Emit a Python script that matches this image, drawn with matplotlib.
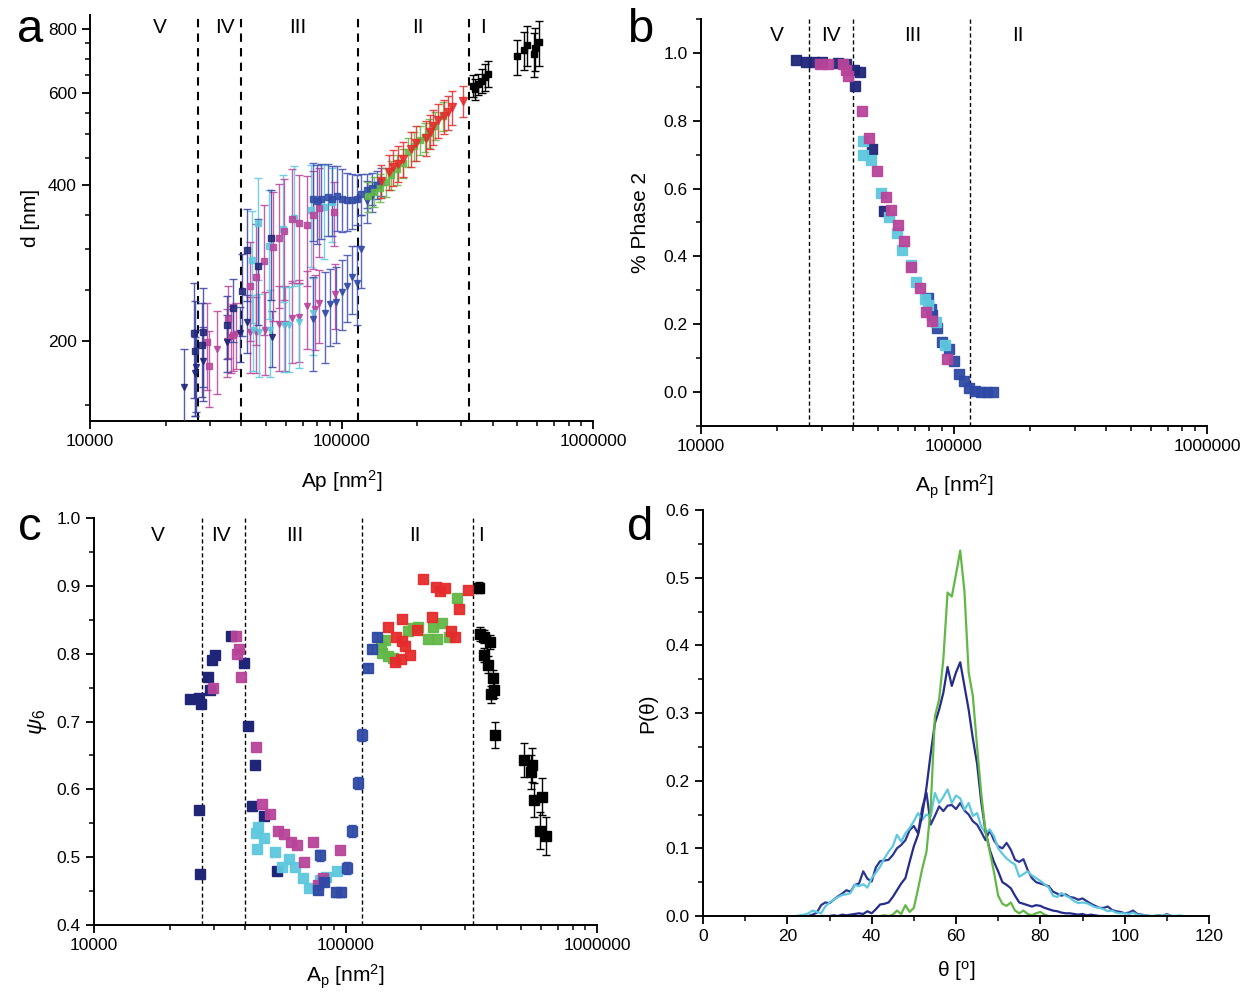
import numpy as np
import matplotlib
matplotlib.use("Agg")
import matplotlib.pyplot as plt
from matplotlib.ticker import FixedLocator, MultipleLocator, NullFormatter, LogLocator, FuncFormatter

plt.rcParams['font.family'] = ['Liberation Sans', 'DejaVu Sans']
plt.rcParams['mathtext.fontset'] = 'custom'
plt.rcParams['mathtext.rm'] = 'Liberation Sans'
plt.rcParams['mathtext.it'] = 'Liberation Sans:italic'

NAVY = '#1f2678'
BLUE = '#2f4aa5'
CYAN = '#5ec8de'
MAGENTA = '#b8449a'
RED = '#e52b2b'
GREEN = '#62b846'

# regime boundaries (nm^2)
bounds = [26800, 40000, 116000, 322000]

# ---------------- panel a : d vs Ap ----------------
a_navy_sq_x = [25800, 26100, 28200, 28000, 35000, 37100, 40200, 42000, 46500, 52400]
a_navy_sq_y = [207, 191, 208, 196, 214, 231, 249, 299, 279, 315]
a_navy_sq_e = [52, 48, 45, 40, 30, 32, 45, 60, 65, 75]

a_navy_tri_x = [23600, 26100, 26500, 28200, 35000, 39500, 42000, 52800]
a_navy_tri_y = [163, 173, 178, 183, 199, 207, 217, 203]
a_navy_tri_e = [30, 30, 32, 30, 25, 25, 28, 25]

a_mag_sq_x = [29300, 29700, 35500, 37000, 43300, 45900, 49200, 53600, 56200, 59200,
              63400, 67700, 72600, 77300, 81400, 93300]
a_mag_sq_y = [199, 179, 220, 205, 255, 266, 285, 303, 316, 325, 344, 338, 335, 350, 360, 355]
a_mag_sq_e = [38, 30, 35, 30, 55, 70, 80, 85, 85, 85, 85, 80, 80, 75, 70, 50]

a_cyan_sq_x = [43900, 46700, 51500, 58800, 65000, 75600, 85000, 91400]
a_cyan_sq_y = [286, 337, 305, 328, 345, 357, 362, 370]
a_cyan_sq_e = [70, 75, 85, 90, 90, 80, 75, 60]

a_mag_tri_x = [31900, 35200, 36500, 38000, 43300, 45900, 49500, 56200, 59800, 63400,
               67700, 72600, 78200, 81400, 94000]
a_mag_tri_y = [193, 200, 203, 206, 208, 208, 210, 215, 215, 221, 222, 233, 230, 236, 246]
a_mag_tri_e = [35, 30, 30, 30, 35, 35, 38, 40, 40, 40, 40, 40, 38, 38, 35]

a_cyan_tri_x = [44500, 47000, 52000, 59000, 62000, 68000, 77000]
a_cyan_tri_y = [210, 208, 210, 214, 214, 217, 226]
a_cyan_tri_e = [35, 38, 40, 40, 40, 40, 38]

a_blue_sq_x = [77000, 80000, 83000, 88000, 92000, 96000, 100000, 105000, 110000, 115000,
               120000, 126000, 132000, 138000, 143000]
a_blue_sq_y = [376, 372, 376, 378, 376, 380, 376, 374, 374, 376, 384, 390, 394, 400, 405]
a_blue_sq_e = [65, 65, 62, 60, 58, 55, 52, 48, 45, 42, 35, 30, 28, 25, 25]

a_blue_tri_x = [77300, 86000, 90000, 95000, 100000, 105000, 110000, 115000, 120000, 126000, 132000]
a_blue_tri_y = [220, 226, 235, 238, 248, 255, 265, 259, 301, 372, 380]
a_blue_tri_e = [45, 45, 40, 40, 38, 38, 40, 45, 48, 35, 25]

a_green_sq_x = [128000, 135000, 142000, 150000, 158000, 166000, 175000, 184000, 195000,
                205000, 214000, 222000, 235000, 254000]
a_green_sq_y = [380, 388, 395, 405, 418, 428, 440, 462, 475, 488, 495, 503, 520, 543]
a_green_sq_e = [25, 25, 25, 26, 27, 28, 28, 30, 30, 31, 32, 32, 33, 35]

a_red_tri_x = [144000, 154000, 160000, 168000, 176000, 189000, 198000, 216000, 225000,
               232000, 242000, 255000, 266000, 276000, 303000]
a_red_tri_y = [407, 423, 432, 439, 449, 469, 481, 492, 506, 518, 532, 542, 552, 564, 581]
a_red_tri_e = [30, 33, 35, 35, 35, 36, 37, 38, 38, 40, 40, 40, 42, 42, 40]

a_black_sq_x = [334000, 338000, 350000, 361000, 371000, 383000, 498000, 533000, 547000,
                581000, 590000, 610000]
a_black_sq_y = [621, 611, 625, 635, 645, 654, 707, 727, 744, 716, 733, 753]
a_black_sq_e = [30, 28, 30, 35, 38, 38, 55, 60, 65, 70, 70, 75]

# ---------------- panel b : % phase 2 ----------------
b_navy_x = [23800, 26100, 28000, 30200, 34800, 37400, 40300, 42500, 40700, 47400, 52800]
b_navy_y = [0.978, 0.973, 0.973, 0.973, 0.970, 0.967, 0.949, 0.944, 0.903, 0.716, 0.533]
b_blue_x = [78700, 81000, 81500, 86000, 89900, 95200, 100200, 105000, 110000, 115000,
            121000, 128000, 135000, 143000]
b_blue_y = [0.277, 0.246, 0.226, 0.189, 0.149, 0.126, 0.091, 0.054, 0.032, 0.012,
            0.002, 0.0, 0.0, 0.0]
b_mag_x = [29600, 31800, 36500, 37400, 38100, 43300, 46200, 49700, 53800, 56400, 60000,
           63300, 67600, 73200, 77200, 81500, 94200]
b_mag_y = [0.966, 0.966, 0.967, 0.949, 0.931, 0.828, 0.750, 0.651, 0.575, 0.538, 0.494,
           0.444, 0.369, 0.308, 0.236, 0.209, 0.098]
b_cyan_x = [43700, 43700, 47000, 51500, 55200, 59300, 62100, 67600, 70500, 76700, 78700,
            84600, 91900]
b_cyan_y = [0.740, 0.698, 0.685, 0.587, 0.516, 0.470, 0.420, 0.374, 0.324, 0.273, 0.256,
            0.206, 0.138]

# ---------------- panel c : psi6 ----------------
c_navy_x = [24000, 26100, 26700, 26100, 26300, 28400, 28800, 29500, 30200, 34900, 39500,
            41000, 43600, 42600, 47400, 53300]
c_navy_y = [0.733, 0.734, 0.726, 0.570, 0.475, 0.766, 0.746, 0.791, 0.798, 0.826, 0.786,
            0.693, 0.636, 0.576, 0.561, 0.480]
c_blue_x = [77500, 79400, 82000, 91800, 96100, 101000, 106000, 112000, 116000, 123000,
            127000, 134000]
c_blue_y = [0.452, 0.503, 0.464, 0.448, 0.448, 0.484, 0.539, 0.609, 0.680, 0.779, 0.807, 0.825]
c_blue_e = [0.006, 0.008, 0.006, 0.007, 0.007, 0.009, 0.009, 0.009, 0.009, 0.006, 0.006, 0.006]
c_mag_x = [29800, 36600, 37100, 37600, 38300, 44000, 46500, 50100, 54000, 57000, 60600,
           64100, 68200, 74100, 81200, 77500, 95500]
c_mag_y = [0.749, 0.826, 0.800, 0.807, 0.766, 0.662, 0.579, 0.563, 0.539, 0.534, 0.522,
           0.518, 0.493, 0.522, 0.469, 0.459, 0.511]
c_cyan_x = [44700, 44000, 44400, 47400, 52400, 55700, 59700, 62900, 67900, 71800, 79400,
            83700, 92700]
c_cyan_y = [0.545, 0.535, 0.512, 0.528, 0.508, 0.485, 0.497, 0.486, 0.469, 0.454, 0.466,
            0.471, 0.479]
c_green_x = [139000, 143000, 139500, 148000, 155000, 177000, 186000, 195000, 212000, 223000,
             232000, 243000, 258000, 278000]
c_green_y = [0.811, 0.820, 0.801, 0.796, 0.793, 0.833, 0.838, 0.839, 0.821, 0.840, 0.821,
             0.845, 0.824, 0.882]
c_red_x = [148000, 157000, 159000, 166000, 168000, 167000, 172000, 180000, 193000, 204000,
           220000, 230000, 238000, 249000, 262000, 273000, 283000, 308000]
c_red_y = [0.840, 0.788, 0.825, 0.792, 0.851, 0.818, 0.812, 0.798, 0.835, 0.910, 0.854,
           0.898, 0.893, 0.897, 0.834, 0.824, 0.866, 0.894]
c_black_x = [341000, 343000, 354000, 376000, 354500, 368000, 385000, 388000, 380000, 394000,
             511000, 552000, 547000, 564000, 605000, 596000, 628000]
c_black_y = [0.897, 0.829, 0.825, 0.817, 0.798, 0.784, 0.764, 0.747, 0.740, 0.680, 0.643,
             0.636, 0.626, 0.584, 0.589, 0.539, 0.531]
c_black_e = [0.008, 0.010, 0.010, 0.010, 0.010, 0.012, 0.012, 0.013, 0.013, 0.019, 0.025,
             0.025, 0.025, 0.025, 0.027, 0.027, 0.028]

# ---------------- panel d : P(theta) ----------------
d_green_t = list(range(42, 83))
d_green_p = [0.000, 0.001, 0.000, 0.002, 0.008, 0.003, 0.016, 0.006, 0.012, 0.040, 0.070,
             0.095, 0.160, 0.295, 0.320, 0.380, 0.478, 0.472, 0.505, 0.540, 0.480, 0.360,
             0.325, 0.250, 0.180, 0.125, 0.095, 0.065, 0.030, 0.018, 0.015, 0.020, 0.008,
             0.004, 0.008, 0.003, 0.001, 0.004, 0.006, 0.002, 0.000]
d_navy_t = list(range(28, 96))
d_navy_p = [0.000, 0.000, 0.000, 0.001, 0.000, 0.002, 0.001, 0.002, 0.003, 0.004, 0.003,
            0.007, 0.004, 0.010, 0.017, 0.018, 0.020, 0.028, 0.038, 0.048, 0.056, 0.080,
            0.103, 0.120, 0.150, 0.190, 0.240, 0.285, 0.305, 0.330, 0.368, 0.340, 0.360,
            0.375, 0.340, 0.305, 0.262, 0.225, 0.168, 0.125, 0.098, 0.080, 0.066, 0.050,
            0.046, 0.041, 0.030, 0.020, 0.018, 0.016, 0.014, 0.016, 0.015, 0.012, 0.010,
            0.008, 0.007, 0.005, 0.004, 0.004, 0.003, 0.002, 0.003, 0.001, 0.002, 0.001,
            0.000, 0.000]
d_broad_t = list(range(24, 113))
d_broad_p = [0.000, 0.000, 0.002, 0.005, 0.016, 0.020, 0.019, 0.024, 0.029, 0.033, 0.038,
             0.036, 0.046, 0.048, 0.066, 0.055, 0.051, 0.072, 0.081, 0.082, 0.083, 0.090,
             0.100, 0.105, 0.112, 0.127, 0.133, 0.122, 0.160, 0.182, 0.135, 0.148, 0.162,
             0.155, 0.163, 0.164, 0.158, 0.167, 0.156, 0.150, 0.140, 0.135, 0.124, 0.112,
             0.127, 0.112, 0.103, 0.100, 0.108, 0.098, 0.083, 0.080, 0.084, 0.068, 0.056,
             0.050, 0.048, 0.046, 0.044, 0.036, 0.033, 0.030, 0.032, 0.028, 0.027, 0.024,
             0.026, 0.022, 0.018, 0.015, 0.012, 0.012, 0.014, 0.009, 0.007, 0.006, 0.004,
             0.005, 0.008, 0.003, 0.002, 0.001, 0.000, 0.000, 0.001, 0.000, 0.003, 0.000,
             0.000]
d_cyan_t = list(range(22, 115))
d_cyan_p = [0.000, 0.001, 0.002, 0.004, 0.008, 0.006, 0.004, 0.014, 0.020, 0.024, 0.028,
            0.031, 0.032, 0.034, 0.046, 0.044, 0.047, 0.042, 0.056, 0.064, 0.073, 0.085,
            0.095, 0.103, 0.120, 0.110, 0.122, 0.130, 0.140, 0.152, 0.142, 0.150, 0.147,
            0.182, 0.167, 0.176, 0.187, 0.167, 0.178, 0.174, 0.157, 0.167, 0.148, 0.152,
            0.132, 0.123, 0.128, 0.118, 0.100, 0.092, 0.085, 0.080, 0.076, 0.058, 0.062,
            0.066, 0.060, 0.056, 0.052, 0.047, 0.042, 0.030, 0.028, 0.034, 0.030, 0.027,
            0.022, 0.019, 0.020, 0.019, 0.016, 0.013, 0.012, 0.010, 0.007, 0.008, 0.005,
            0.004, 0.004, 0.003, 0.005, 0.002, 0.001, 0.001, 0.000, 0.000, 0.001, 0.000,
            0.002, 0.000, 0.000, 0.001, 0.000]


def style_axes(ax):
    for s in ['top', 'right']:
        ax.spines[s].set_visible(False)
    for s in ['left', 'bottom']:
        ax.spines[s].set_linewidth(1.4)
    ax.tick_params(which='major', direction='out', length=6, width=1.3, labelsize=12.5)
    ax.tick_params(which='minor', direction='out', length=3.5, width=1.1)


def log_xaxis(ax):
    ax.set_xscale('log')
    ax.set_xlim(1e4, 1e6)
    ax.xaxis.set_major_locator(FixedLocator([1e4, 1e5, 1e6]))
    ax.xaxis.set_major_formatter(FuncFormatter(lambda v, p: '%d' % round(v)))
    ax.xaxis.set_minor_locator(LogLocator(base=10, subs=range(2, 10)))
    ax.xaxis.set_minor_formatter(NullFormatter())


def regimes(ax, labels, xs, yfrac, lw, dash):
    # panel b shows only the first three boundaries
    for b in bounds[:len(labels) - 1] if len(labels) < 5 else bounds:
        ax.axvline(b, color='k', lw=lw, dashes=dash, zorder=1)
    for lab, x in zip(labels, xs):
        ax.text(x, yfrac, lab, transform=ax.get_xaxis_transform(), ha='center',
                va='center', fontsize=15)


def ebar(ax, x, y, e, color, marker, ms, ecolor=None, alpha=0.85):
    ax.errorbar(x, y, yerr=e, fmt=marker, ms=ms, color=color, mec=color,
                ecolor=ecolor or color, elinewidth=1.0, capsize=3, capthick=1.0,
                alpha=alpha, zorder=3)


fig = plt.figure(figsize=(12.4, 9.96), dpi=100)
W, H = 1240.0, 996.0

# ---- a ----
ax = fig.add_axes([90 / W, (H - 421) / H, 503 / W, 406 / H])
style_axes(ax)
log_xaxis(ax)
ax.set_yscale('log')
ax.set_ylim(140, 850)
ax.yaxis.set_major_locator(FixedLocator([200, 400, 600, 800]))
ax.yaxis.set_major_formatter(FuncFormatter(lambda v, p: '%d' % round(v)))
ax.yaxis.set_minor_locator(FixedLocator([150, 250, 300, 350, 450, 500, 550, 650, 700, 750]))
ax.yaxis.set_minor_formatter(NullFormatter())
regimes(ax, ['V', 'IV', 'III', 'II', 'I'], [19000, 34400, 67000, 201000, 366000], 0.968,
        1.5, (4, 3))
ebar(ax, a_mag_tri_x, a_mag_tri_y, a_mag_tri_e, MAGENTA, 'v', 5)
ebar(ax, a_cyan_tri_x, a_cyan_tri_y, a_cyan_tri_e, CYAN, 'v', 5)
ebar(ax, a_navy_tri_x, a_navy_tri_y, a_navy_tri_e, NAVY, 'v', 5, ecolor='#3a3f9f')
ebar(ax, a_blue_tri_x, a_blue_tri_y, a_blue_tri_e, BLUE, 'v', 5, ecolor='#3f4fb0')
ebar(ax, a_cyan_sq_x, a_cyan_sq_y, a_cyan_sq_e, CYAN, 's', 4.3)
ebar(ax, a_mag_sq_x, a_mag_sq_y, a_mag_sq_e, MAGENTA, 's', 4.3)
ebar(ax, a_navy_sq_x, a_navy_sq_y, a_navy_sq_e, NAVY, 's', 4.3, ecolor='#3a3f9f')
ebar(ax, a_blue_sq_x, a_blue_sq_y, a_blue_sq_e, BLUE, 's', 4.3, ecolor='#3f4fb0')
ebar(ax, a_green_sq_x, a_green_sq_y, a_green_sq_e, GREEN, 's', 4.3)
ebar(ax, a_red_tri_x, a_red_tri_y, a_red_tri_e, RED, 'v', 5.5)
ebar(ax, a_black_sq_x, a_black_sq_y, a_black_sq_e, 'k', 's', 5, alpha=1)
ax.set_xlabel('Ap [nm$^2$]', fontsize=15)
ax.set_ylabel('d [nm]', fontsize=15)
ax.xaxis.set_label_coords(0.5, -0.115)
ax.yaxis.set_label_coords(-0.10, 0.5)

# ---- b ----
ax = fig.add_axes([701 / W, (H - 426) / H, 506 / W, 407 / H])
style_axes(ax)
log_xaxis(ax)
ax.set_ylim(-0.1, 1.1)
ax.yaxis.set_major_locator(FixedLocator([0.0, 0.2, 0.4, 0.6, 0.8, 1.0]))
ax.yaxis.set_major_formatter(FuncFormatter(lambda v, p: '%.1f' % v))
ax.yaxis.set_minor_locator(MultipleLocator(0.1))
regimes(ax, ['V', 'IV', 'III', 'II'], [19900, 32700, 68700, 178600], 0.96, 1.0, (3, 2))
ax.plot(b_navy_x, b_navy_y, 's', ms=6.5, color=NAVY, alpha=0.95, zorder=3)
ax.plot(b_blue_x, b_blue_y, 's', ms=6.5, color=BLUE, alpha=0.95, zorder=3)
ax.plot(b_cyan_x, b_cyan_y, 's', ms=6.5, color=CYAN, alpha=0.95, zorder=3)
ax.plot(b_mag_x, b_mag_y, 's', ms=6.5, color=MAGENTA, alpha=0.95, zorder=3)
ax.set_xlabel('A$_\\mathrm{p}$ [nm$^2$]', fontsize=15)
ax.set_ylabel('% Phase 2', fontsize=15)
ax.xaxis.set_label_coords(0.5, -0.115)
ax.yaxis.set_label_coords(-0.10, 0.5)

# ---- c ----
ax = fig.add_axes([94 / W, (H - 925) / H, 503 / W, 407 / H])
style_axes(ax)
log_xaxis(ax)
ax.set_ylim(0.4, 1.0)
ax.yaxis.set_major_locator(MultipleLocator(0.1))
ax.yaxis.set_major_formatter(FuncFormatter(lambda v, p: '%.1f' % v))
ax.yaxis.set_minor_locator(MultipleLocator(0.05))
regimes(ax, ['V', 'IV', 'III', 'II', 'I'], [18000, 32000, 63000, 188000, 345000], 0.958,
        1.0, (3, 2))
ax.plot(c_navy_x, c_navy_y, 's', ms=6.5, color=NAVY, zorder=3)
ax.plot(c_cyan_x, c_cyan_y, 's', ms=6.5, color=CYAN, alpha=0.95, zorder=3)
ax.plot(c_mag_x, c_mag_y, 's', ms=6.5, color=MAGENTA, alpha=0.95, zorder=3)
ebar(ax, c_blue_x, c_blue_y, c_blue_e, BLUE, 's', 6.5, alpha=0.95)
ax.plot(c_green_x, c_green_y, 's', ms=6.5, color=GREEN, alpha=0.95, zorder=3)
ax.plot(c_red_x, c_red_y, 's', ms=6.5, color=RED, alpha=0.95, zorder=3)
ebar(ax, c_black_x, c_black_y, c_black_e, 'k', 's', 6.5, alpha=1)
ax.set_xlabel('A$_\\mathrm{p}$ [nm$^2$]', fontsize=15)
ax.set_ylabel('$\\psi_6$', fontsize=16)
ax.xaxis.set_label_coords(0.5, -0.092)
ax.yaxis.set_label_coords(-0.09, 0.5)

# ---- d ----
ax = fig.add_axes([703 / W, (H - 916) / H, 506 / W, 406 / H])
style_axes(ax)
ax.set_xlim(0, 120)
ax.set_ylim(0, 0.6)
ax.xaxis.set_major_locator(MultipleLocator(20))
ax.xaxis.set_minor_locator(MultipleLocator(10))
ax.yaxis.set_major_locator(MultipleLocator(0.1))
ax.yaxis.set_major_formatter(FuncFormatter(lambda v, p: '%.1f' % v))
ax.yaxis.set_minor_locator(MultipleLocator(0.05))
ax.plot(d_broad_t, d_broad_p, color='#2b3592', lw=1.6)
ax.plot(d_cyan_t, d_cyan_p, color=CYAN, lw=1.6)
ax.plot(d_navy_t, d_navy_p, color='#262c8a', lw=1.6)
ax.plot(d_green_t, d_green_p, color=GREEN, lw=1.6)
ax.set_xlabel('\u03b8 [$^\\mathrm{o}$]', fontsize=15)
ax.set_ylabel('P(\u03b8)', fontsize=15)
ax.xaxis.set_label_coords(0.5, -0.105)
ax.yaxis.set_label_coords(-0.09, 0.5)

# panel letters
for lab, x, y in [('a', 30, 30), ('b', 640, 30), ('c', 30, 528), ('d', 640, 528)]:
    fig.text(x / W, 1 - y / H, lab, fontsize=34, ha='center', va='center')

fig.savefig('out.png', dpi=100)
